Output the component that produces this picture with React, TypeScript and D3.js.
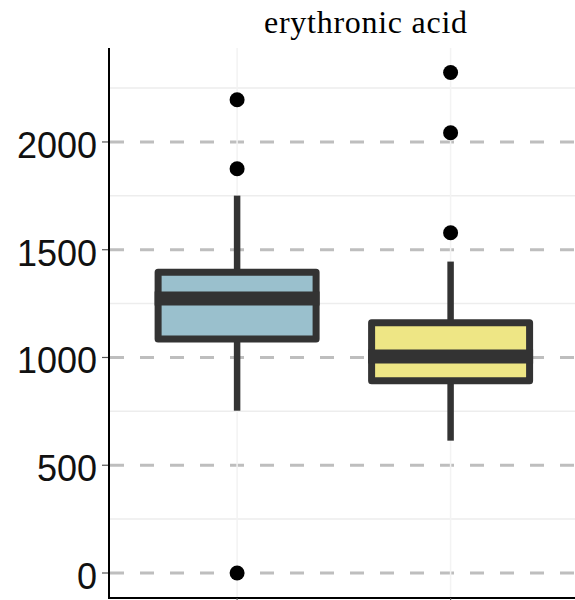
import React from "react";
import * as d3 from "d3";

const categories = ["group1", "group2"];
const fills = ["#9AC0CD", "#EEE685"];
const q1 = [1086, 892];
const medians = [1274, 1005];
const q3 = [1396, 1161];
const whiskerLow = [753, 614];
const whiskerHigh = [1751, 1445];
const outliers = [
  [2196, 1876, 0],
  [2322, 2043, 1579],
];
const majorTicks = [0, 500, 1000, 1500, 2000];
const minorTicks = [250, 750, 1250, 1750, 2250];
const title = "erythronic acid";

const W = 575;
const H = 600;
const panelLeft = 109;
const panelRight = 578.7;
const panelTop = 48;
const panelBottom = 598;

export default function App() {
  const x = d3.scalePoint<string>().domain(categories).range([panelLeft, panelRight]).padding(0.6);
  const y = d3.scaleLinear().domain([-116, 2436]).range([panelBottom, panelTop]);
  const step = x.step();
  const boxW = step * 0.74;
  const sw = 7;

  return (
    <svg width={W} height={H} style={{ position: "absolute", left: 0, top: 0, background: "#fff" }}>
      <rect x={0} y={0} width={W} height={H} fill="#fff" />
      {/* minor gridlines */}
      {minorTicks.map((t) => (
        <line key={"mn" + t} x1={panelLeft} x2={W} y1={y(t)} y2={y(t)} stroke="#EDEDED" strokeWidth={1.5} />
      ))}
      {/* major dashed gridlines */}
      {majorTicks.map((t) => (
        <line key={"mj" + t} x1={110} x2={W} y1={y(t)} y2={y(t)} stroke="#BEBEBE" strokeWidth={3} strokeDasharray="14 16" />
      ))}
      {/* vertical gridlines */}
      {categories.map((c) => (
        <line key={"v" + c} x1={x(c)} x2={x(c)} y1={panelTop} y2={panelBottom} stroke="#F3F3F3" strokeWidth={1.5} />
      ))}
      {/* boxes */}
      {categories.map((c, i) => {
        const cx = x(c) as number;
        return (
          <g key={"b" + c}>
            <line x1={cx} x2={cx} y1={y(q3[i])} y2={y(whiskerHigh[i])} stroke="#333333" strokeWidth={6.5} />
            <line x1={cx} x2={cx} y1={y(q1[i])} y2={y(whiskerLow[i])} stroke="#333333" strokeWidth={6.5} />
            <rect
              x={cx - boxW / 2}
              y={y(q3[i])}
              width={boxW}
              height={y(q1[i]) - y(q3[i])}
              fill={fills[i]}
              stroke="#333333"
              strokeWidth={sw}
              strokeLinejoin="round"
            />
            <line
              x1={cx - boxW / 2 - sw / 2}
              x2={cx + boxW / 2 + sw / 2}
              y1={y(medians[i])}
              y2={y(medians[i])}
              stroke="#333333"
              strokeWidth={14}
            />
            {outliers[i].map((v, j) => (
              <circle key={j} cx={cx} cy={y(v)} r={7.5} fill="#000" />
            ))}
          </g>
        );
      })}
      {/* axes */}
      <line x1={panelLeft} x2={panelLeft} y1={panelTop} y2={panelBottom + 1} stroke="#000" strokeWidth={2} />
      <line x1={panelLeft - 1} x2={W} y1={panelBottom} y2={panelBottom} stroke="#000" strokeWidth={2} />
      {majorTicks.map((t) => (
        <g key={"t" + t}>
          <line x1={102} x2={108} y1={y(t)} y2={y(t)} stroke="#555" strokeWidth={1.2} />
          <text
            x={97}
            y={y(t) + 16}
            textAnchor="end"
            fontFamily="'Liberation Sans', Arial, sans-serif"
            fontSize={36}
            fill="#111"
          >
            {t}
          </text>
        </g>
      ))}
      {categories.map((c) => (
        <line key={"xt" + c} x1={x(c)} x2={x(c)} y1={panelBottom} y2={H} stroke="#555" strokeWidth={1.2} />
      ))}
      <text
        x={365.5}
        y={33}
        textAnchor="middle"
        fontFamily="'Liberation Serif', 'DejaVu Serif', serif"
        fontSize={32}
        textLength={203}
        lengthAdjust="spacing"
        fill="#000"
      >
        {title}
      </text>
    </svg>
  );
}
